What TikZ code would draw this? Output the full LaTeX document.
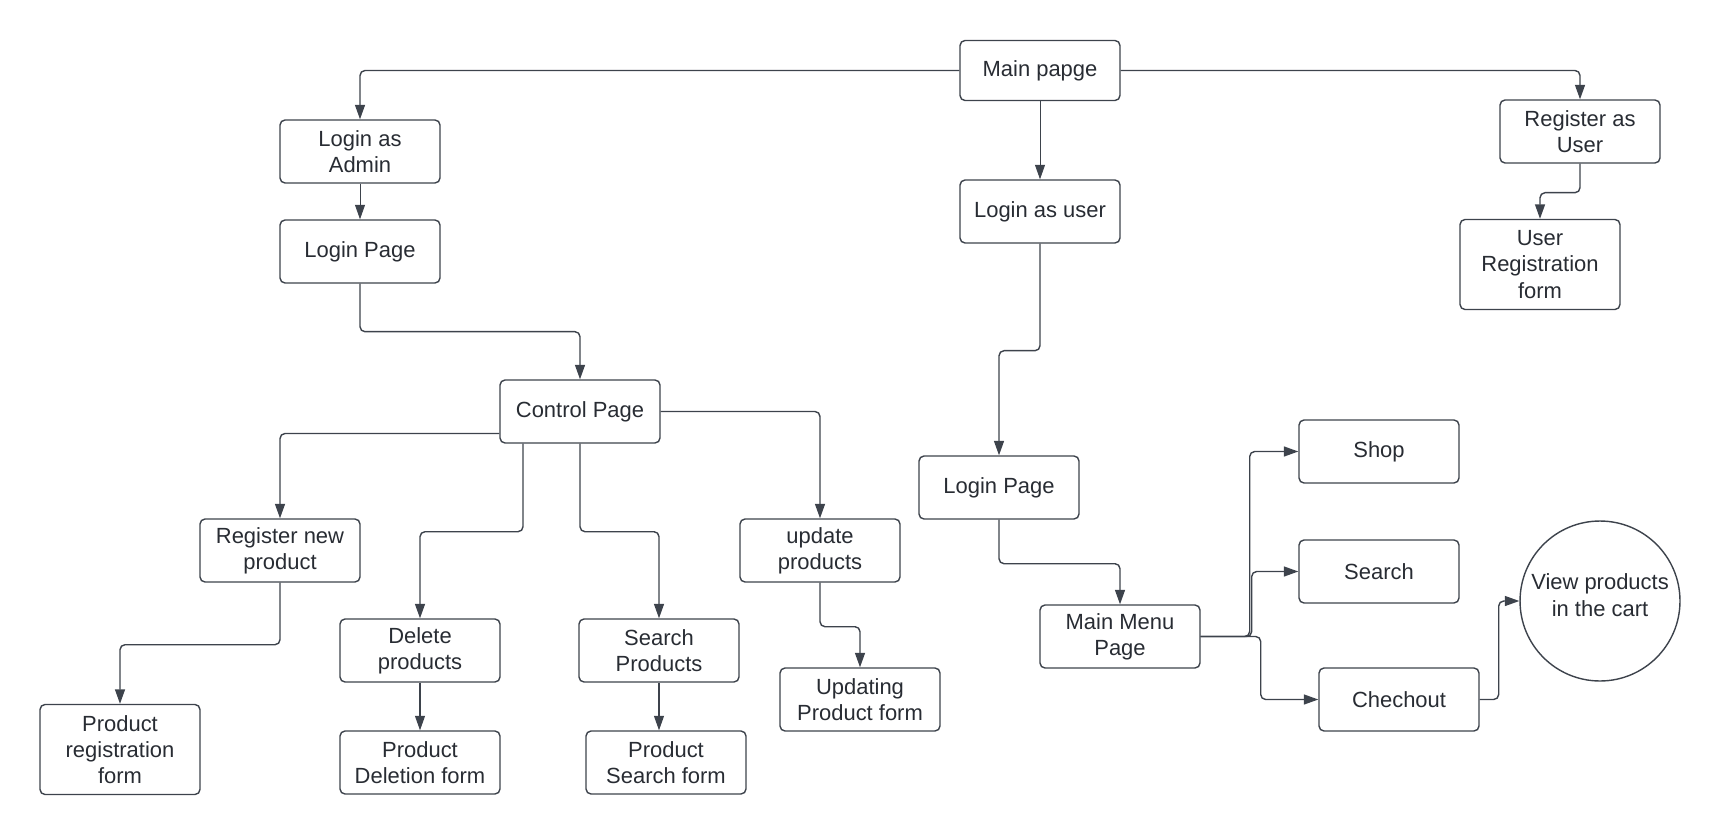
\documentclass[tikz,border=0pt]{standalone}
\usepackage{fontspec}
\setmainfont{Liberation Sans}
\usetikzlibrary{arrows.meta,calc}
\definecolor{ln}{HTML}{3D434C}
\definecolor{tx}{HTML}{282C33}
\begin{document}
\begin{tikzpicture}[x=0.02cm,y=-0.02cm,
 txt/.style={align=center, text=tx, font=\fontsize{12.5}{15}\selectfont},
 box/.style={txt, draw=ln, line width=0.8pt, rounded corners=0.1cm, minimum width=3.2cm, minimum height=1.26cm, inner sep=2pt, yshift=-0.03cm},
 tall/.style={box, minimum height=1.8cm},
 conn/.style={draw=ln, line width=0.8pt, rounded corners=0.1cm, -{Triangle[length=0.29cm,width=0.2cm]}}]
\useasboundingbox (0,0) rectangle (1720,835);
\node[box, minimum height=1.2cm] (main) at (1040,69) {Main papge};
\node[box] (ladm) at (360,150) {Login as\\Admin};
\node[box] (lpa) at (360,250) {Login Page};
\node[box] (lusr) at (1040,210) {Login as user};
\node[box] (regu) at (1580,130) {Register as\\User};
\node[tall] (urf) at (1540,263) {User\\Registration\\form};
\node[box] (cp) at (580,410) {Control Page};
\node[box] (rnp) at (280,549) {Register new\\product};
\node[box] (del) at (420,649) {Delete\\products};
\node[box] (sp) at (659,649) {Search\\Products};
\node[box] (upd) at (820,549) {update\\products};
\node[tall] (prf) at (120,748) {Product\\registration\\form};
\node[box] (pdf) at (420,761) {Product\\Deletion form};
\node[box] (psf) at (666,761) {Product\\Search form};
\node[box] (upf) at (860,698) {Updating\\Product form};
\node[box] (lpu) at (999,486) {Login Page};
\node[box] (mm) at (1120,635) {Main Menu\\Page};
\node[box] (shop) at (1379,450) {Shop};
\node[box] (srch) at (1379,570) {Search};
\node[box] (chk) at (1399,698) {Chechout};
\node[draw=ln, line width=0.8pt, circle, minimum size=3.2cm, inner sep=0pt,
  label={[txt, yshift=0.12cm]center:View products\\in the cart}] (cart) at (1600,601) {};
\draw[conn] (main.west) -| (ladm.north);
\draw[conn] (main.east) -| (regu.north);
\draw[conn, line width=0.5pt] (main.south) -- (lusr.north);
\draw[conn, line width=0.5pt] (ladm.south) -- (lpa.north);
\draw[conn] (regu.south) -- ++(0,29) -| (urf.north);
\draw[conn] (lpa.south) -- ++(0,48) -| (cp.north);
\draw[conn] (lusr.south) -- ++(0,107) -| (lpu.north);
\draw[conn] ($(cp.west)+(0,22)$) -| (rnp.north);
\draw[conn] ($(cp.south)+(-57,0)$) -- ++(0,88) -| (del.north);
\draw[conn] (cp.south) -- ++(0,88) -| (sp.north);
\draw[conn] (cp.east) -| (upd.north);
\draw[conn] (rnp.south) -- ++(0,62) -| (prf.north);
\draw[conn, line width=0.6pt] (del.south) -- (pdf.north);
\draw[conn, line width=0.6pt] (sp.south) -- (sp.south |- psf.north);
\draw[conn] (upd.south) -- ++(0,44) -| (upf.north);
\draw[conn] (lpu.south) -- ++(0,44) -| (mm.north);
\draw[conn] (mm.east) -- ++(49,0) |- (shop.west);
\draw[conn] (mm.east) -- ++(51,0) |- (srch.west);
\draw[conn] (mm.east) -- ++(60,0) |- (chk.west);
\draw[conn] (chk.east) -- ++(19,0) |- (cart.west);
\end{tikzpicture}
\end{document}
